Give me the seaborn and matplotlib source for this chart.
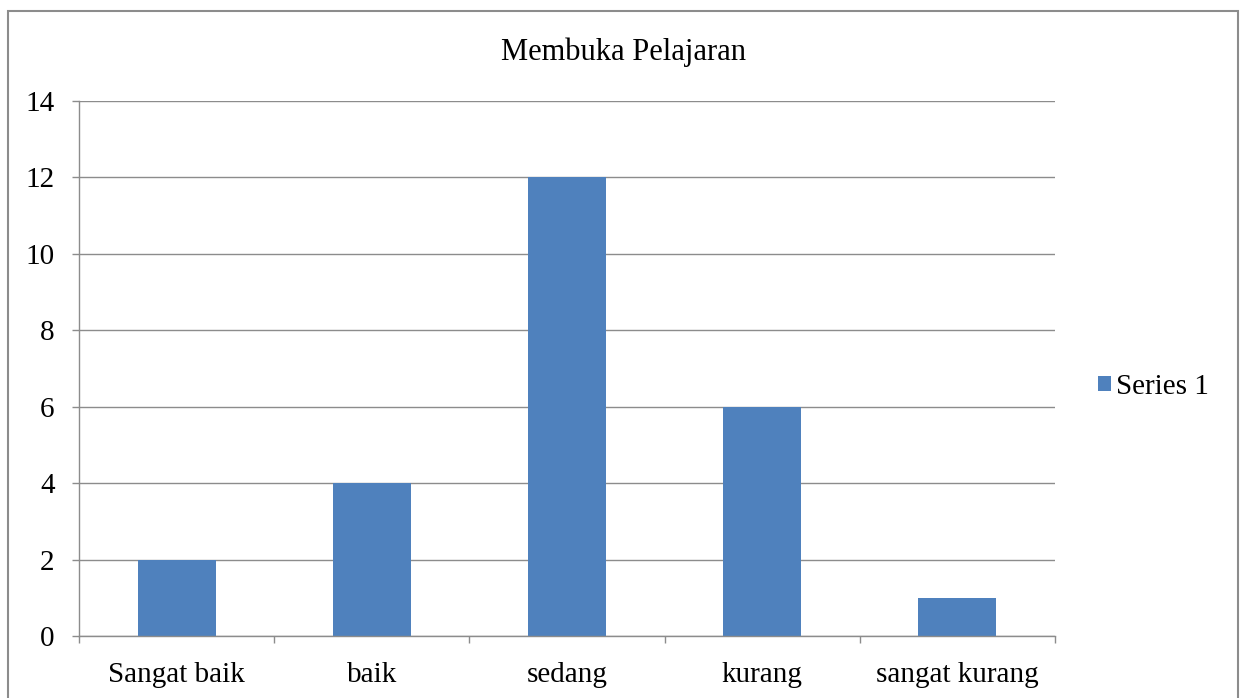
import matplotlib
matplotlib.use("Agg")
import matplotlib.pyplot as plt
import seaborn as sns
from matplotlib.patches import Rectangle

categories = ["Sangat baik", "baik", "sedang", "kurang", "sangat kurang"]
values = [2, 4, 12, 6, 1]
series_name = "Series 1"
title = "Membuka Pelajaran"
y_ticks = [0, 2, 4, 6, 8, 10, 12, 14]

sns.set_theme(style="white")
plt.rcParams["font.family"] = ["Liberation Serif", "DejaVu Serif"]
plt.rcParams["text.color"] = "black"

W, H = 1247, 698
FS = 21
fig = plt.figure(figsize=(W / 100, H / 100), dpi=100)
ax = fig.add_axes([79 / W, 1 - 636 / H, (1055 - 79) / W, (636 - 101) / H])

sns.barplot(x=categories, y=values, color="#4F81BD", width=0.4,
            saturation=1, linewidth=0, label=series_name, ax=ax)

grid_c = "#8C8C8C"
ax.set_ylim(0, 14)
ax.set_xlim(-0.5, len(categories) - 0.5)
ax.set_yticks(y_ticks)
ax.yaxis.grid(True, color=grid_c, linewidth=1)
ax.set_axisbelow(True)
for s in ["top", "right"]:
    ax.spines[s].set_visible(False)
for s in ["left", "bottom"]:
    ax.spines[s].set_color(grid_c)
    ax.spines[s].set_linewidth(1)

ax.set_xticks([i - 0.5 for i in range(len(categories) + 1)], minor=True)
ax.tick_params(axis="x", which="major", length=0, pad=19, labelsize=FS, colors="black")
ax.tick_params(axis="x", which="minor", length=5, width=1, color=grid_c, bottom=True)
ax.tick_params(axis="y", length=5, width=1, color=grid_c, pad=12.5, labelsize=FS,
               labelcolor="black", left=True)
ax.set_xlabel("")
ax.set_ylabel("")

fig.text(0.5, 1 - 52 / H, title, ha="center", va="center", fontsize=22, color="black")

ax.legend(loc="center left", bbox_to_anchor=(1072 / W, 1 - 387 / H),
          bbox_transform=fig.transFigure, frameon=False, fontsize=FS,
          labelcolor="black",
          handlelength=0.45, handleheight=0.45, handletextpad=0.15)

fig.patches.append(Rectangle((8 / W, -0.05), (1238 - 8) / W, 1.05 - 11 / H,
                             transform=fig.transFigure, fill=False,
                             edgecolor="#8C8C8C", linewidth=1.5))

fig.savefig("out.png", dpi=100)
